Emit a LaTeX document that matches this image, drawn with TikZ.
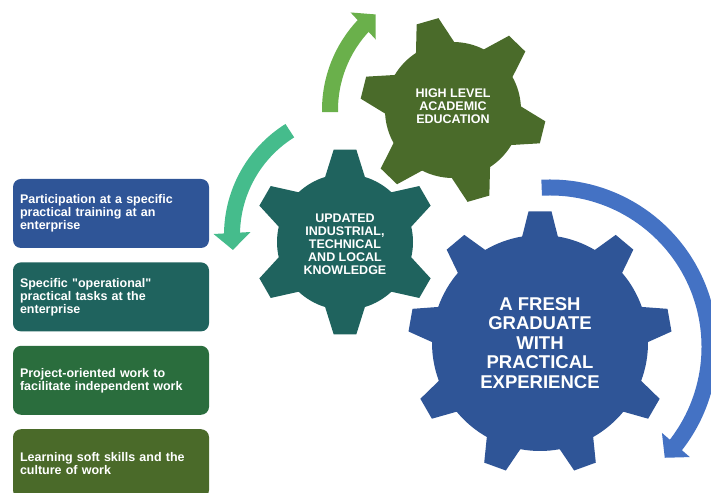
\documentclass[tikz,border=0pt]{standalone}
\usepackage{fontspec}
\setmainfont{Liberation Sans}
\usetikzlibrary{arrows.meta,bending,positioning}
\definecolor{Gc}{HTML}{2F5597}
\definecolor{Kc}{HTML}{1F635E}
\definecolor{Ec}{HTML}{4A6B2A}
\definecolor{Pc}{HTML}{2A6D3D}
\definecolor{Sc}{HTML}{4A6A29}
\definecolor{Ga}{HTML}{4472C4}
\definecolor{Ka}{HTML}{45BC8C}
\definecolor{Ea}{HTML}{6AB04B}
\tikzset{
  cogtext/.style={text=white, font=\bfseries\fontsize{12.5}{13}\selectfont, align=center},
  bigtext/.style={text=white, font=\bfseries\fontsize{18.5}{19.5}\selectfont, align=center},
  item/.style={rounded corners=8pt, text=white, font=\bfseries\fontsize{12.5}{13}\selectfont,
    align=left, text width=182pt, inner sep=7pt, minimum height=69pt},
  turn/.style={line width=16pt, -{Triangle[width=36pt,length=17pt]}},
}
% #1 colour, #2 centre, #3 body radius, #4 tip radius, #5 teeth,
% #6 first tooth angle, #7 half angle at base, #8 half angle at tip
\newcommand{\cog}[8]{%
  \begin{scope}[shift={#2}]
  \fill[#1] ({#6-#7}:#3) \foreach \k in {1,...,#5}{
    -- ({#6+(\k-1)*360/#5-#8}:#4) -- ({#6+(\k-1)*360/#5+#8}:#4)
    -- ({#6+(\k-1)*360/#5+#7}:#3)
    arc[start angle={#6+(\k-1)*360/#5+#7}, end angle={#6+\k*360/#5-#7}, radius=#3]} -- cycle;
  \end{scope}}

\begin{document}
\begin{tikzpicture}[x=1pt,y=1pt]
  \useasboundingbox (0,0) rectangle (711,492);
  % turning arrows
  \draw[turn, Ea] ([shift={(453,382)}]181:123) arc[start angle=181, end angle=129, radius=123];
  \draw[turn, Ka] ([shift={(355,257)}]122:123) arc[start angle=122, end angle=187, radius=123];
  \draw[turn, Ga] ([shift={(550,145)}]93:159.5) arc[start angle=93, end angle=-44, radius=159.5];
  % gears
  \cog{Ec}{(453,382)}{68}{93}{6}{-14}{17}{7}
  \cog{Kc}{(345,250)}{68}{93}{6}{90}{17}{7}
  \cog{Gc}{(540,149)}{108}{132}{9}{90}{9.5}{5}
  \node[cogtext] (edu) at (453,386) {HIGH LEVEL\\ACADEMIC\\EDUCATION};
  \node[cogtext] (know) at (345,248) {UPDATED\\INDUSTRIAL,\\TECHNICAL\\AND LOCAL\\KNOWLEDGE};
  \node[bigtext] (grad) at (540,149) {A FRESH\\GRADUATE\\WITH\\PRACTICAL\\EXPERIENCE};
  % activities
  \node[item, fill=Gc] (train) at (111,278.5) {Participation at a specific\\practical training at an\\enterprise};
  \node[item, fill=Kc, below=14pt of train] (tasks) {Specific \textquotedbl operational\textquotedbl\\practical tasks at the\\enterprise};
  \node[item, fill=Pc, below=14pt of tasks] (proj) {Project-oriented work to\\facilitate independent work};
  \node[item, fill=Sc, below=14pt of proj] (soft) {Learning soft skills and the\\culture of work};
\end{tikzpicture}
\end{document}
